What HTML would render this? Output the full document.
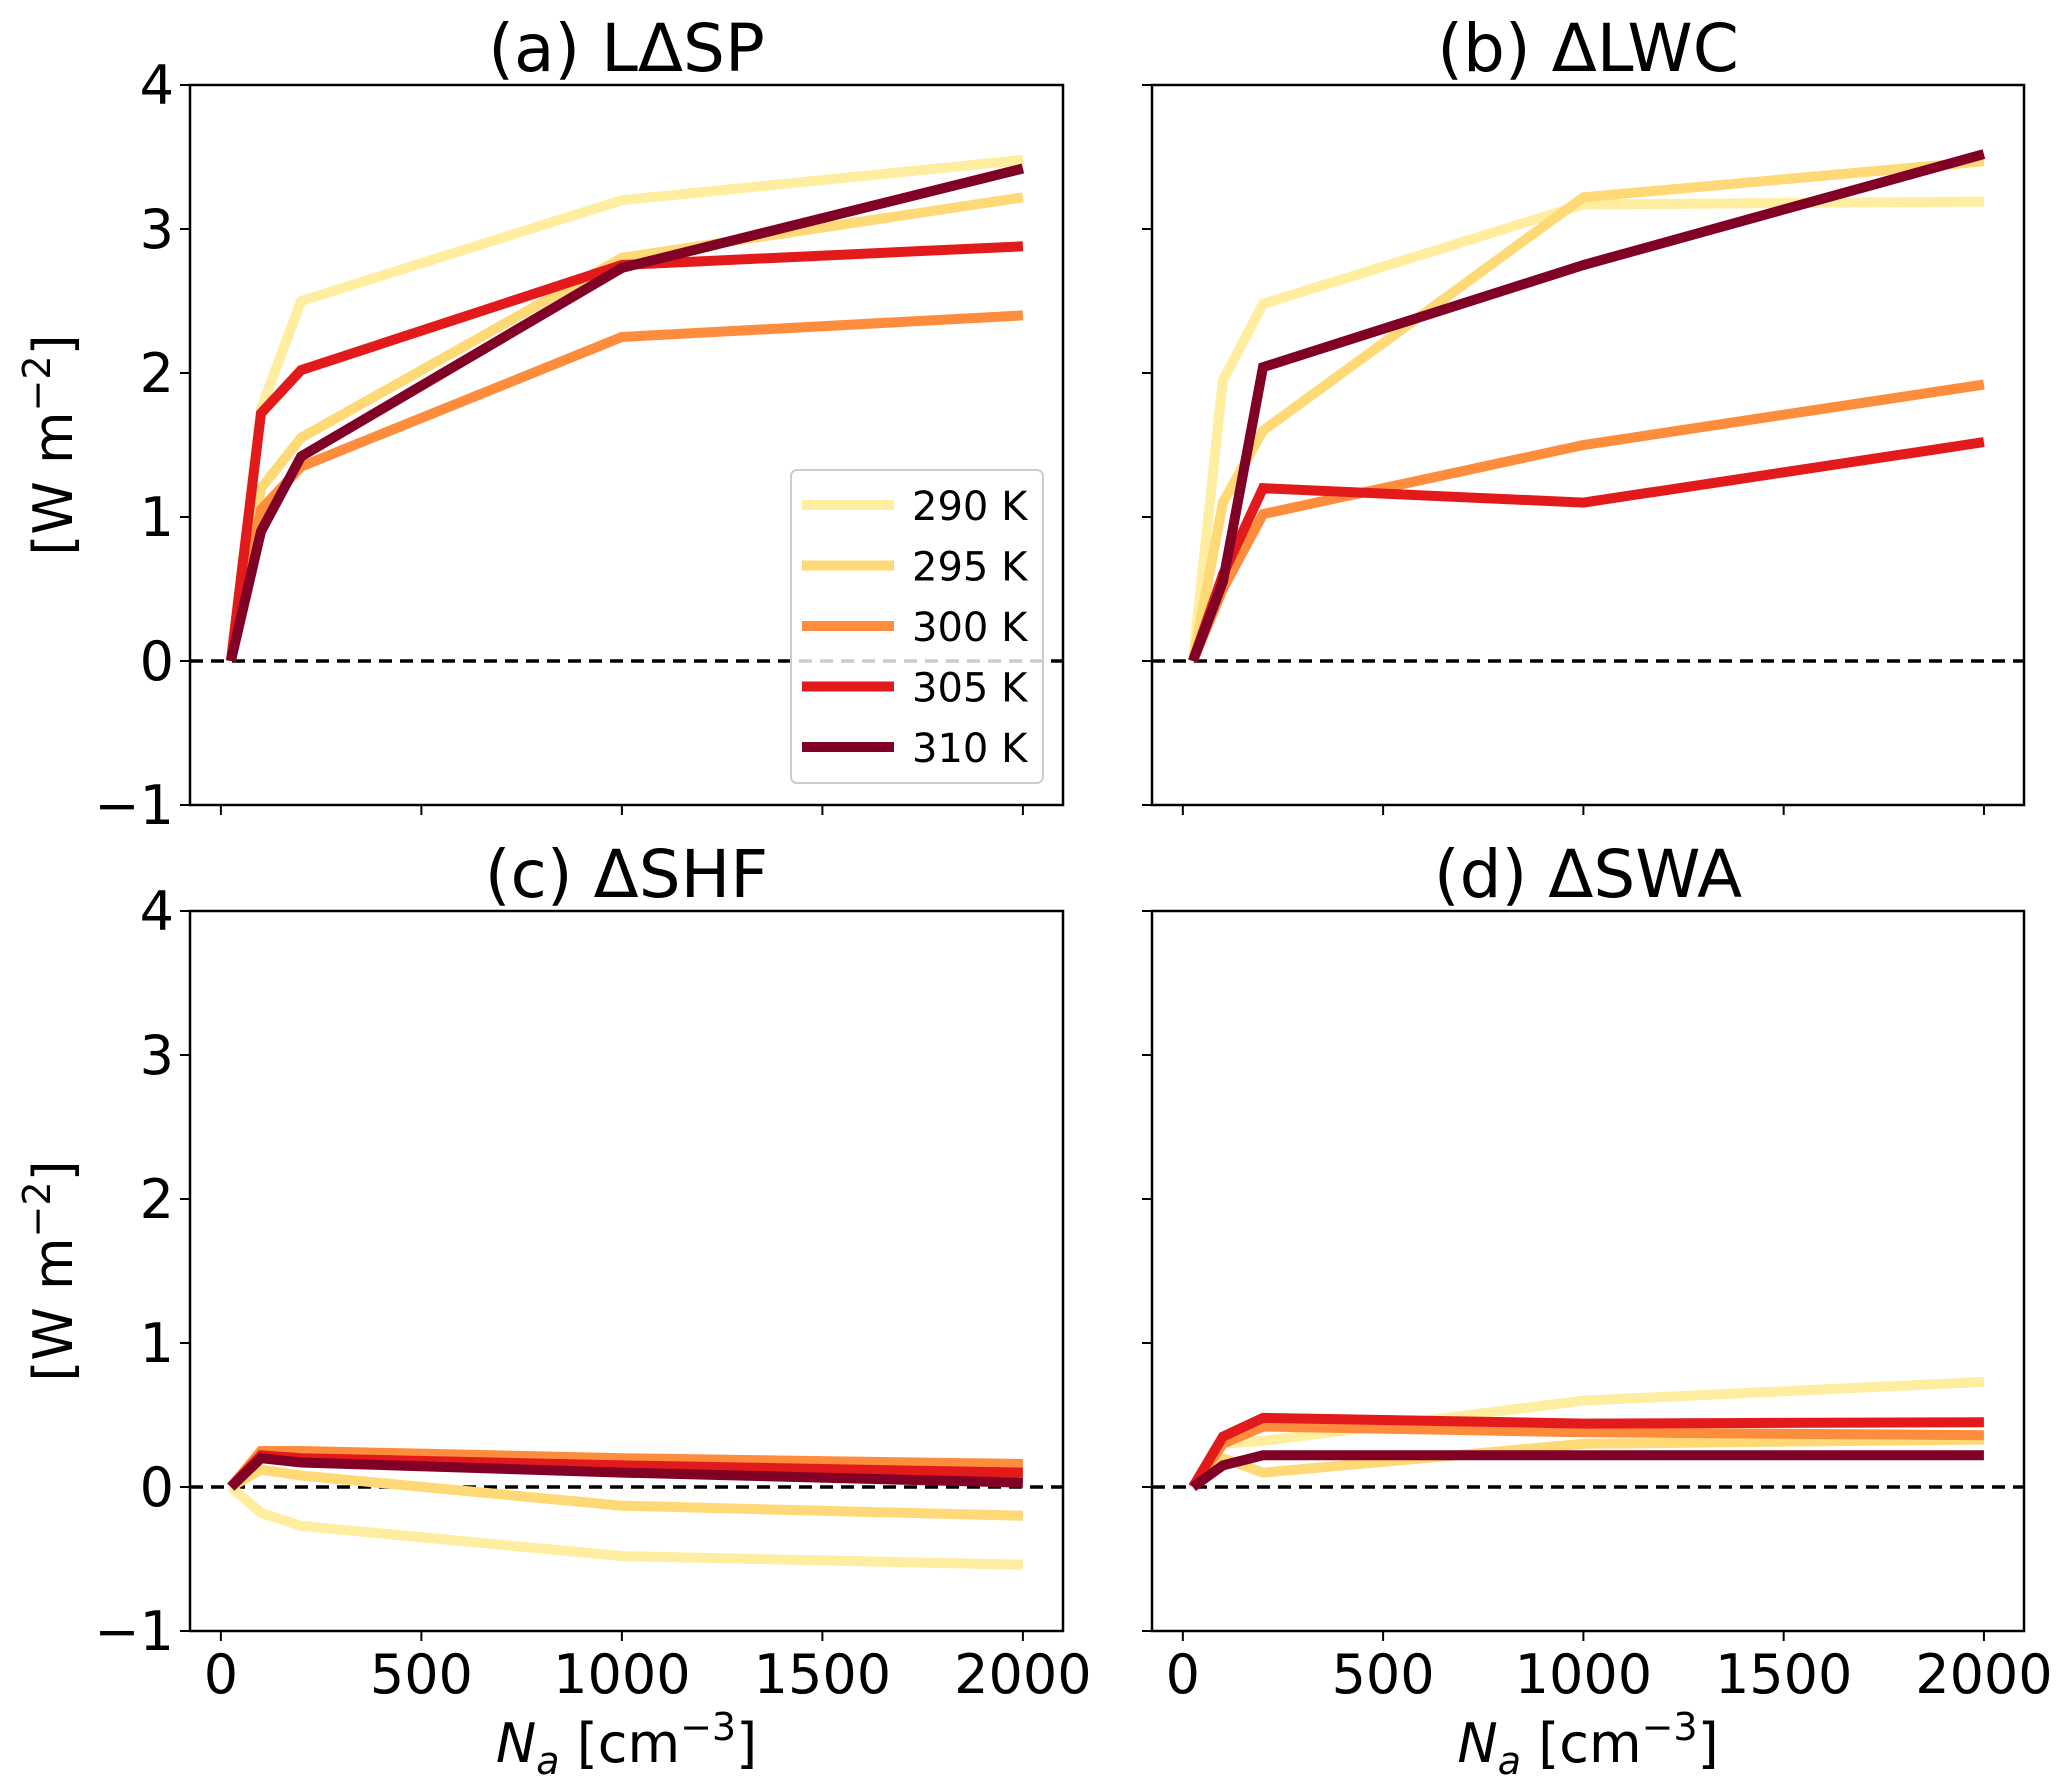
<!DOCTYPE html>
<html><head><meta charset="utf-8"><style>
html,body{margin:0;padding:0;background:#fff}
svg{display:block;font-family:"DejaVu Sans","Liberation Sans",sans-serif}
</style></head><body>
<svg id="fig" width="2067" height="1791" viewBox="0 0 2067 1791" xmlns="http://www.w3.org/2000/svg"></svg>
<script>
const xValues=[25,100,200,1000,2000];
const seriesLabels=['290 K','295 K','300 K','305 K','310 K'];
const seriesColors=['#ffeda0','#fed976','#fd8d3c','#e31a1c','#800026'];
const panelTitles=['(a) LΔSP','(b) ΔLWC','(c) ΔSHF','(d) ΔSWA'];
const aVals=[[0,1.75,2.5,3.2,3.48],[0,1.2,1.55,2.8,3.22],[0,1.05,1.35,2.25,2.4],[0,1.72,2.02,2.75,2.88],[0,0.9,1.42,2.73,3.42]];
const bVals=[[0,1.95,2.48,3.17,3.19],[0,1.1,1.6,3.22,3.47],[0,0.5,1.02,1.5,1.92],[0,0.6,1.2,1.1,1.52],[0,0.55,2.04,2.75,3.52]];
const cVals=[[0,-0.18,-0.27,-0.48,-0.54],[0,0.12,0.08,-0.13,-0.2],[0,0.25,0.25,0.2,0.16],[0,0.22,0.2,0.15,0.1],[0,0.2,0.17,0.1,0.03]];
const dVals=[[0,0.3,0.32,0.6,0.73],[0,0.2,0.1,0.3,0.33],[0,0.3,0.42,0.38,0.36],[0,0.35,0.48,0.44,0.45],[0,0.15,0.22,0.22,0.22]];
const yTicks=[-1,0,1,2,3,4];
const xTicks=[0,500,1000,1500,2000];

const NS='http://www.w3.org/2000/svg';
const svg=document.getElementById('fig');
function el(tag,attrs,parent,text){const e=document.createElementNS(NS,tag);for(const k in attrs)e.setAttribute(k,attrs[k]);if(text!==undefined)e.textContent=text;(parent||svg).appendChild(e);return e;}
const panels=[
 {L:190,R:1063,T:85,B:805,vals:aVals,ylab:true,xlab:false},
 {L:1152,R:2024,T:85,B:805,vals:bVals,ylab:false,xlab:false},
 {L:190,R:1063,T:911,B:1631,vals:cVals,ylab:true,xlab:true},
 {L:1152,R:2024,T:911,B:1631,vals:dVals,ylab:false,xlab:true}];
const X0=-77,X1=2100;
panels.forEach((p,i)=>{
 const g=el('g',{});
 
 
 const sx=v=>p.L+(v-X0)/(X1-X0)*(p.R-p.L);
 const sy=v=>p.B-(v+1)/5*(p.B-p.T);
 const t=el('text',{x:(p.L+p.R)/2,y:p.T-14,'font-size':66,'text-anchor':'middle'},g,panelTitles[i]);
 
 
 yTicks.forEach(v=>{
  el('line',{x1:p.L-10,x2:p.L,y1:sy(v),y2:sy(v),stroke:'#000','stroke-width':2},g);
  if(p.ylab){const tl=el('text',{x:p.L-16,y:sy(v)+19,'font-size':54,'text-anchor':'end'},g,v<0?'−'+(-v):String(v));
   
   }
 });
 xTicks.forEach(v=>{
  el('line',{x1:sx(v),x2:sx(v),y1:p.B,y2:p.B+10,stroke:'#000','stroke-width':2},g);
  if(p.xlab){const tl=el('text',{x:sx(v),y:p.B+62,'font-size':54,'text-anchor':'middle'},g,String(v));
   
   }
 });
 const z=el('line',{x1:p.L,x2:p.R,y1:sy(0),y2:sy(0),stroke:'#000','stroke-width':3.5,'stroke-dasharray':'13,8'},g);
 
 
 p.vals.forEach((s,k)=>{
  const pts=s.map((v,j)=>sx(xValues[j]).toFixed(1)+','+sy(v).toFixed(1)).join(' ');
  const pl=el('polyline',{points:pts,fill:'none',stroke:seriesColors[k],'stroke-width':10,'stroke-linejoin':'miter'},g);
  
  
 });
 el('rect',{x:p.L,y:p.T,width:p.R-p.L,height:p.B-p.T,fill:'none',stroke:'#000','stroke-width':2.5},g);
 if(p.ylab){const yl=el('text',{x:0,y:0,'font-size':54,'text-anchor':'middle',transform:`translate(72,${(p.T+p.B)/2}) rotate(-90)`},g);
  
  
  el('tspan',{},yl,'[W m');el('tspan',{dy:-22,'font-size':38},yl,'−2');el('tspan',{dy:22},yl,']');}
 if(p.xlab){const xl=el('text',{x:(p.L+p.R)/2,y:1762,'font-size':54,'text-anchor':'middle'},g);
  
  
  el('tspan',{'font-style':'italic'},xl,'N');el('tspan',{'font-style':'italic','font-size':38,dy:12},xl,'a');
  el('tspan',{dy:-12},xl,' [cm');el('tspan',{dy:-22,'font-size':38},xl,'−3');el('tspan',{dy:22},xl,']');}
 if(i===0){
  const lg=el('g',{},g);
  
  
  el('rect',{x:791,y:470,width:252,height:313,rx:6,fill:'#fff','fill-opacity':0.8,stroke:'#ccc','stroke-width':2},lg);
  seriesLabels.forEach((lab,k)=>{
   const y=505+k*60.5;
   const le=el('g',{},lg);
   
   
   el('line',{x1:802,x2:894,y1:y,y2:y,stroke:seriesColors[k],'stroke-width':10},le);
   el('text',{x:912,y:y+15,'font-size':40},le,lab);
  });
 }
});
</script>
</body></html>
